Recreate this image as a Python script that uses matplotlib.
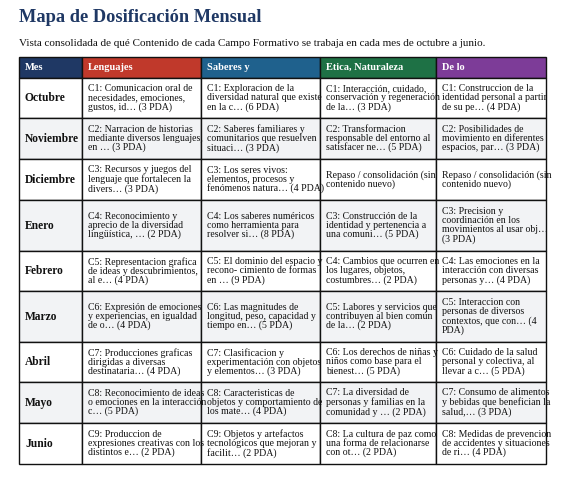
import matplotlib
matplotlib.use("Agg")
import matplotlib.pyplot as plt
from matplotlib.patches import Rectangle

title = "Mapa de Dosificación Mensual"
subtitle = "Vista consolidada de qué Contenido de cada Campo Formativo se trabaja en cada mes de octubre a junio."
headers = ["Mes", "Lenguajes", "Saberes y", "Etica, Naturaleza", "De lo"]
header_colors = ["#1f3864", "#c0392b", "#1f618d", "#1e7145", "#7d3c98"]
months = ["Octubre", "Noviembre", "Diciembre", "Enero", "Febrero", "Marzo", "Abril", "Mayo", "Junio"]
lenguajes = [
    "C1: Comunicacion oral de\nnecesidades, emociones,\ngustos, id… (3 PDA)",
    "C2: Narracion de historias\nmediante diversos lenguajes,\nen … (3 PDA)",
    "C3: Recursos y juegos del\nlenguaje que fortalecen la\ndivers… (3 PDA)",
    "C4: Reconocimiento y\naprecio de la diversidad\nlingüística, … (2 PDA)",
    "C5: Representacion grafica\nde ideas y descubrimientos,\nal e… (4 PDA)",
    "C6: Expresión de emociones\ny experiencias, en igualdad\nde o… (4 PDA)",
    "C7: Producciones graficas\ndirigidas a diversas\ndestinataria… (4 PDA)",
    "C8: Reconocimiento de ideas\no emociones en la interacción\nc… (5 PDA)",
    "C9: Produccion de\nexpresiones creativas con los\ndistintos e… (2 PDA)",
]
saberes = [
    "C1: Exploracion de la\ndiversidad natural que existe\nen la c… (6 PDA)",
    "C2: Saberes familiares y\ncomunitarios que resuelven\nsituaci… (3 PDA)",
    "C3: Los seres vivos:\nelementos, procesos y\nfenómenos natura… (4 PDA)",
    "C4: Los saberes numéricos\ncomo herramienta para\nresolver si… (8 PDA)",
    "C5: El dominio del espacio y\nrecono- cimiento de formas\nen … (9 PDA)",
    "C6: Las magnitudes de\nlongitud, peso, capacidad y\ntiempo en… (5 PDA)",
    "C7: Clasificacion y\nexperimentación con objetos\ny elementos… (3 PDA)",
    "C8: Caracteristicas de\nobjetos y comportamiento de\nlos mate… (4 PDA)",
    "C9: Objetos y artefactos\ntecnológicos que mejoran y\nfacilit… (2 PDA)",
]
etica = [
    "C1: Interacción, cuidado,\nconservación y regeneración\nde la… (3 PDA)",
    "C2: Transformacion\nresponsable del entorno al\nsatisfacer ne… (5 PDA)",
    "Repaso / consolidación (sin\ncontenido nuevo)",
    "C3: Construcción de la\nidentidad y pertenencia a\nuna comuni… (5 PDA)",
    "C4: Cambios que ocurren en\nlos lugares, objetos,\ncostumbres… (2 PDA)",
    "C5: Labores y servicios que\ncontribuyen al bien común\nde la… (2 PDA)",
    "C6: Los derechos de niñas y\nniños como base para el\nbienest… (5 PDA)",
    "C7: La diversidad de\npersonas y familias en la\ncomunidad y … (2 PDA)",
    "C8: La cultura de paz como\nuna forma de relacionarse\ncon ot… (2 PDA)",
]
delo = [
    "C1: Construccion de la\nidentidad personal a partir\nde su pe… (4 PDA)",
    "C2: Posibilidades de\nmovimiento en diferentes\nespacios, par… (3 PDA)",
    "Repaso / consolidación (sin\ncontenido nuevo)",
    "C3: Precision y\ncoordinación en los\nmovimientos al usar obj…\n(3 PDA)",
    "C4: Las emociones en la\ninteracción con diversas\npersonas y… (4 PDA)",
    "C5: Interaccion con\npersonas de diversos\ncontextos, que con… (4\nPDA)",
    "C6: Cuidado de la salud\npersonal y colectiva, al\nllevar a c… (5 PDA)",
    "C7: Consumo de alimentos\ny bebidas que benefician la\nsalud,… (3 PDA)",
    "C8: Medidas de prevencion\nde accidentes y situaciones\nde ri… (4 PDA)",
]

col_x = [19, 82, 201, 320, 436, 546]
row_y = [57, 78, 118, 159, 200, 251, 291, 342, 382, 423, 464]

fig = plt.figure(figsize=(5.69, 4.9), dpi=100)
ax = fig.add_axes([0, 0, 1, 1])
ax.set_xlim(0, 569); ax.set_ylim(490, 0); ax.axis("off")
serif = "Liberation Serif"

ax.text(19, 18, title, fontsize=13.2, fontweight="bold", color="#1f3864", family=serif, va="center")
ax.text(19, 44, subtitle, fontsize=8, color="#111111", family=serif, va="center")

cols = [months, lenguajes, saberes, etica, delo]
for c in range(5):
    x0, x1 = col_x[c], col_x[c + 1]
    ax.add_patch(Rectangle((x0, row_y[0]), x1 - x0, row_y[1] - row_y[0], facecolor=header_colors[c], edgecolor="#111111", lw=1))
    ax.text(x0 + 6, (row_y[0] + row_y[1]) / 2, headers[c], color="white", fontweight="bold", fontsize=7.5, family=serif, va="center")
for r in range(len(months)):
    y0, y1 = row_y[r + 1], row_y[r + 2]
    bg = "#f2f3f5" if r % 2 == 1 else "white"
    for c in range(5):
        x0, x1 = col_x[c], col_x[c + 1]
        ax.add_patch(Rectangle((x0, y0), x1 - x0, y1 - y0, facecolor=bg, edgecolor="#111111", lw=1))
        if c == 0:
            ax.text(x0 + 6, (y0 + y1) / 2, cols[c][r], fontweight="bold", fontsize=8.3, family=serif, va="center", color="#111111")
        else:
            ax.text(x0 + 6, (y0 + y1) / 2, cols[c][r], fontsize=7.1, family=serif, va="center", color="#111111", linespacing=1.0)

fig.savefig("out.png", dpi=100, facecolor="white")
